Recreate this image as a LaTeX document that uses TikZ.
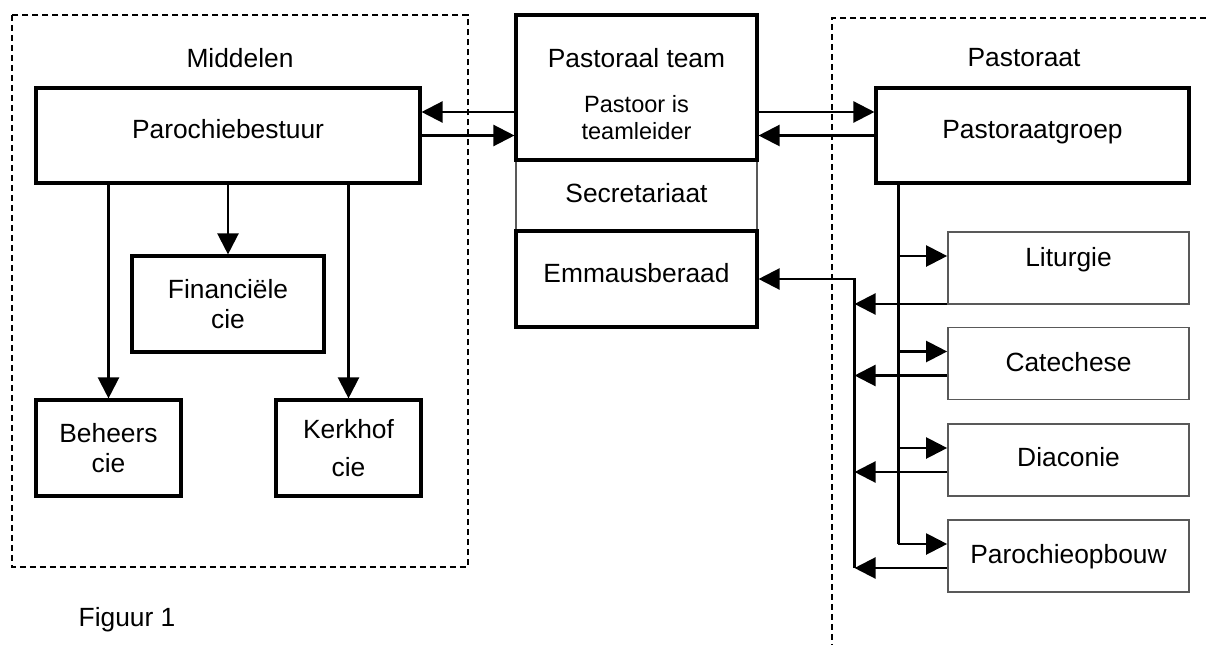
\documentclass[tikz,border=0pt]{standalone}
\usepackage{fontspec}
\setmainfont{Liberation Sans}
\usepackage{tikz}
\usetikzlibrary{arrows.meta}

\begin{document}
\begin{tikzpicture}[x=0.02cm, y=-0.02cm, font=\fontsize{15}{17}\selectfont,
  >={Triangle[length=0.42cm,width=0.42cm]},
  box/.style={draw, line width=1.8pt, inner sep=0pt},
  sub/.style={draw=black!65, line width=1pt, inner sep=0pt, minimum width=4.82cm, minimum height=1.44cm},
  lift/.style={text height=0.38cm, text depth=#1},
  region/.style={line width=1.2pt, dash pattern=on 0.12cm off 0.08cm},
  conn/.style={line width=1.3pt}]
\useasboundingbox (0,0) rectangle (1206,645);
% dashed regions
\draw[region] (12,15) rectangle (468,567);
\draw[region] (1206,18) -- (832,18) -- (832,645);
% Middelen
\node (middelen) at (240,58) {Middelen};
\node[box, lift=0.26cm, minimum width=7.68cm, minimum height=1.9cm] (bestuur) at (228,135.5) {Parochiebestuur};
\node[box, align=center, minimum width=3.84cm, minimum height=1.92cm] (fin) at (228,304) {Financiële\\cie};
\node[box, align=center, minimum width=2.9cm, minimum height=1.92cm] (beheer) at (108.5,448) {Beheers\\cie};
\node[box, align=center, minimum width=2.9cm, minimum height=1.92cm] (kerkhof) at (348.5,448) {Kerkhof\\[0.16cm]cie};
% team in the middle
\node[sub, lift=0.1cm, minimum height=1.42cm] (secr) at (636.5,195.5) {Secretariaat};
\node[box, minimum width=4.82cm, minimum height=2.9cm] (team) at (636.5,87.5) {};
\node (teamnaam) at (636.5,58) {Pastoraal team};
\node[align=center, font=\fontsize{13.4}{15.3}\selectfont] (leider) at (636.5,117.5) {Pastoor is\\teamleider};
\node[box, lift=0.24cm, minimum width=4.82cm, minimum height=1.92cm] (emmaus) at (636.5,279) {Emmausberaad};
% Pastoraat
\node (pastoraat) at (1024,58) {Pastoraat};
\node[box, lift=0.26cm, minimum width=6.26cm, minimum height=1.9cm] (groep) at (1032.5,135.5) {Pastoraatgroep};
\node[sub, lift=0.44cm] (lit) at (1068.5,268) {Liturgie};
\node[sub, lift=0.06cm] (cat) at (1068.5,363.5) {Catechese};
\node[sub, lift=0.12cm] (dia) at (1068.5,460) {Diaconie};
\node[sub, lift=0.08cm] (opb) at (1068.5,556) {Parochieopbouw};
\node[lift=0cm] (figuur) at (127,617) {Figuur 1};

\draw[conn, ->] ([yshift=-0.49cm]team.west) -- ([yshift=-0.49cm]team.west -| bestuur.east);
\draw[conn, ->] (bestuur.east) -- (bestuur.east -| team.west);
\draw[conn, ->] ([yshift=-0.49cm]team.east) -- ([yshift=-0.49cm]team.east -| groep.west);
\draw[conn, ->] (groep.west) -- (groep.west -| team.east);

\draw[conn, ->] (bestuur) -- (fin);
\draw[conn, ->] (beheer.north |- bestuur.south) -- (beheer);
\draw[conn, ->] (kerkhof.north |- bestuur.south) -- (kerkhof);

\coordinate (stam) at ([xshift=0.48cm]groep.south west);
\coordinate (terug) at ([xshift=1.92cm]emmaus.east);
\foreach \n/\d in {lit/0.72, cat/0.24, dia/0.24, opb/0.24}{
  \coordinate (\n-in) at ([yshift=0.24cm]\n.west);
  \coordinate (\n-uit) at ([yshift=-\d cm]\n.west);
  \draw[conn, ->] (stam |- \n-in) -- (\n-in);
  \draw[conn, ->] (\n-uit) -- (terug |- \n-uit);
}
\draw[conn] (stam) -- (stam |- opb-in);
\draw[conn, ->] (terug |- opb-uit) -- (terug) -- (emmaus.east);
\end{tikzpicture}
\end{document}
